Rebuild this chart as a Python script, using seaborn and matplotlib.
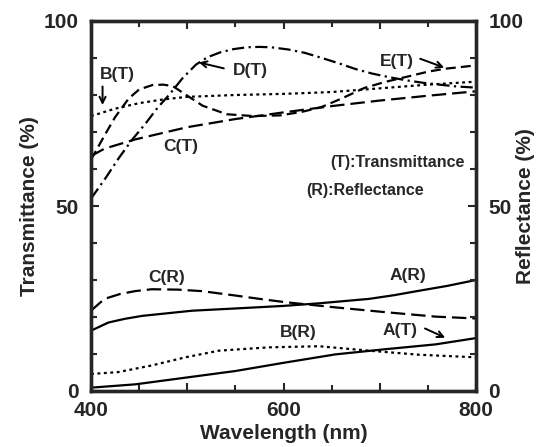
import matplotlib
matplotlib.use("Agg")
import matplotlib.pyplot as plt
from matplotlib.ticker import FixedLocator, FixedFormatter, MultipleLocator
import pandas as pd
import seaborn as sns

# ---- spectra: wavelength (nm) and percentage values ----
wl_AT = [400, 446, 498, 550, 602, 654, 706, 758, 800]
A_T = [0.9, 1.8, 3.6, 5.4, 7.7, 9.9, 11.3, 12.6, 14.3]

wl_AR = [400, 418, 435, 453, 505, 557, 600, 637, 689, 715, 741, 770, 800]
A_R = [16.3, 18.5, 19.5, 20.3, 21.7, 22.4, 23.0, 23.7, 24.9, 25.9, 27.1, 28.4, 30.0]

wl_BT = [400, 425, 450, 475, 500, 550, 600, 650, 700, 750, 800]
B_T = [74.3, 76.3, 77.8, 78.8, 79.5, 80.0, 80.3, 80.8, 81.8, 82.8, 83.6]

wl_BR = [400, 428, 463, 498, 533, 585, 637, 689, 741, 800]
B_R = [4.6, 5.1, 6.9, 9.1, 10.9, 11.8, 12.1, 10.9, 9.8, 9.1]

wl_CT = [400, 414, 446, 500, 550, 600, 650, 700, 750, 800]
C_T = [63.5, 65.5, 68.0, 71.3, 73.5, 75.3, 77.0, 78.5, 79.8, 81.0]

wl_CR = [400, 414, 430, 446, 463, 490, 515, 550, 575, 602, 654, 706, 758, 800]
C_R = [21.7, 24.9, 26.2, 27.0, 27.5, 27.4, 27.0, 25.8, 24.9, 24.0, 22.6, 21.3, 20.1, 19.6]

wl_DT = [400, 415, 429, 443, 457, 469, 481, 495, 509, 521, 534, 548, 562, 575,
         587, 605, 622, 640, 657, 675, 692, 710, 727, 745, 762, 780, 800]
D_T = [52.0, 57.5, 63.0, 68.0, 72.4, 76.5, 80.0, 84.5, 88.2, 90.2, 91.5, 92.4, 92.9, 93.0,
       92.9, 92.3, 91.4, 90.0, 88.6, 87.0, 85.8, 84.8, 84.0, 83.3, 82.8, 82.3, 82.0]

wl_ET = [400, 415, 425, 439, 450, 464, 475, 485, 499, 516, 541, 569, 597, 620,
         639, 660, 684, 705, 726, 750, 768, 800]
E_T = [62.5, 69.5, 74.0, 79.0, 81.5, 82.7, 82.8, 82.4, 80.0, 77.1, 74.8, 74.3, 74.5, 75.5,
       76.7, 79.0, 81.9, 83.5, 84.8, 86.3, 87.1, 88.0]

# ---- figure ----
sns.set_style("ticks")
plt.rcParams["font.family"] = ["Liberation Sans", "DejaVu Sans"]
plt.rcParams["font.weight"] = "bold"

W, H = 551, 447
fig, ax = plt.subplots(figsize=(W / 100, H / 100), dpi=100)
fig.subplots_adjust(left=91 / W, right=476 / W, bottom=1 - 391 / H, top=1 - 21 / H)

lw = 1.6
styles = {
    "solid": "-",
    "dot": (0, (1.3, 1.6)),
    "long": (0, (6.5, 2.7)),
    "dashdot": (0, (5.5, 2.0, 1.0, 2.0)),
    "dash": (0, (4.5, 2.3)),
}

series = [
    (wl_AT, A_T, "solid"),
    (wl_AR, A_R, "solid"),
    (wl_BT, B_T, "dot"),
    (wl_BR, B_R, "dot"),
    (wl_CT, C_T, "long"),
    (wl_CR, C_R, "long"),
    (wl_DT, D_T, "dashdot"),
    (wl_ET, E_T, "dash"),
]
for wl, vals, st in series:
    df = pd.DataFrame({"wl": wl, "val": vals})
    sns.lineplot(data=df, x="wl", y="val", ax=ax, color="black", lw=lw,
                 linestyle=styles[st], errorbar=None)

ax.set_xlim(400, 800)
ax.set_ylim(0, 100)

# ---- curve labels ----
lab_fs = 12.5
for x, y, s in [(427, 85.6, "B(T)"), (566, 86.5, "D(T)"), (493, 66.2, "C(T)"),
                (718, 89.1, "E(T)"), (479, 30.6, "C(R)"), (729, 31.2, "A(R)"),
                (615, 15.7, "B(R)"), (721, 16.3, "A(T)")]:
    ax.text(x, y, s, ha="center", va="center", fontsize=lab_fs, fontweight="bold")

ax.text(788, 61.8, "(T):Transmittance", ha="right", va="center", fontsize=11.5,
        fontweight="bold")
ax.text(624, 54.3, "(R):Reflectance", ha="left", va="center", fontsize=11.5,
        fontweight="bold")

arrow = dict(arrowstyle="->", lw=1.4, color="black", shrinkA=0, shrinkB=0,
             mutation_scale=11)
ax.annotate("", xy=(412, 77.3), xytext=(412, 82.3), arrowprops=arrow)
ax.annotate("", xy=(512, 88.8), xytext=(538, 87.2), arrowprops=arrow)
ax.annotate("", xy=(767, 87.4), xytext=(742, 89.8), arrowprops=arrow)
ax.annotate("", xy=(768, 14.4), xytext=(747, 16.9), arrowprops=arrow)

# ---- axes, ticks and labels ----
tick_fs = 15
ax.xaxis.set_major_locator(FixedLocator([400, 500, 600, 700, 800]))
ax.xaxis.set_major_formatter(FixedFormatter(["400", "", "600", "", "800"]))
ax.xaxis.set_minor_locator(MultipleLocator(50))
ax.yaxis.set_major_locator(FixedLocator([0, 50, 100]))
ax.yaxis.set_minor_locator(MultipleLocator(10))
ax.tick_params(axis="x", which="both", direction="in", top=True, bottom=True,
               labelsize=tick_fs, pad=7)
ax.tick_params(axis="y", which="both", direction="in", left=True, right=False,
               labelsize=tick_fs, pad=9)
ax.tick_params(which="major", length=6, width=1.5)
ax.tick_params(which="minor", length=4, width=1.5)
for t in ax.get_xticklabels() + ax.get_yticklabels():
    t.set_fontweight("bold")

ax2 = ax.twinx()
ax2.set_ylim(0, 100)
ax2.yaxis.set_major_locator(FixedLocator([0, 50, 100]))
ax2.yaxis.set_minor_locator(MultipleLocator(10))
ax2.tick_params(axis="y", which="both", direction="in", right=True,
                labelsize=tick_fs, pad=9)
ax2.tick_params(which="major", length=6, width=1.5)
ax2.tick_params(which="minor", length=4, width=1.5)
for t in ax2.get_yticklabels():
    t.set_fontweight("bold")

for a in (ax, ax2):
    for sp in a.spines.values():
        sp.set_linewidth(2.4)
        sp.set_visible(True)

label_fs = 15
ax.set_xlabel("Wavelength (nm)", fontsize=label_fs, fontweight="bold")
ax.set_ylabel("Transmittance (%)", fontsize=label_fs, fontweight="bold")
ax2.set_ylabel("Reflectance (%)", fontsize=label_fs, fontweight="bold")
ax.xaxis.set_label_coords(0.5, -0.088)
ax.yaxis.set_label_coords(-0.135, 0.5)
ax2.yaxis.set_label_coords(1.105, 0.5)

fig.savefig("out.png", dpi=100)
